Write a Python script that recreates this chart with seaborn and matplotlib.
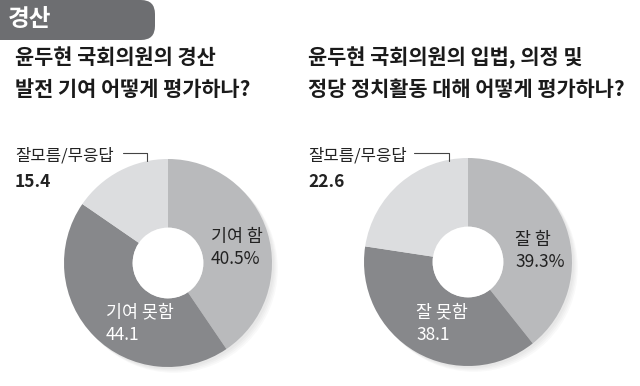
"""Gyeongsan poll: two donut charts on lawmaker evaluation."""

import matplotlib
matplotlib.use('Agg')
import matplotlib.pyplot as plt
import matplotlib.patches as mpatches
import matplotlib.transforms as mtransforms
import seaborn as sns

# %% Data ----
region = '경산'
titles = [['윤두현 국회의원의 경산', '발전 기여 어떻게 평가하나?'],
          ['윤두현 국회의원의 입법, 의정 및', '정당 정치활동 대해 어떻게 평가하나?']]
left_labels = ['기여 함', '기여 못함', '잘모름/무응답']
left_values = [40.5, 44.1, 15.4]
right_labels = ['잘 함', '잘 못함', '잘모름/무응답']
right_values = [39.3, 38.1, 22.6]
value_texts = [['40.5%', '44.1', '15.4'], ['39.3%', '38.1', '22.6']]

colors = ['#b9babc', '#87888b', '#dcdddf']

# %% Style ----
sns.set_theme(style='white')
plt.rcParams['font.family'] = ['Noto Sans CJK KR', 'DejaVu Sans']

W, H = 640, 386
fig = plt.figure(figsize=(W / 100, H / 100), dpi=100)
fig.patch.set_facecolor('white')


def px(x, y):
    """pixel coords (top-left origin) -> figure fraction"""
    return x / W, 1 - y / H


# header tab
tab = mpatches.FancyBboxPatch((-20, H - 40), 175, 40,
                              boxstyle='round,pad=0,rounding_size=14',
                              transform=mtransforms.IdentityTransform(),
                              facecolor='#6d6e71', edgecolor='none')
fig.patches.append(tab)
fig.text(*px(8, 19), region, color='white', fontsize=17, fontweight='bold',
         va='center', ha='left')

HOLE = 0.34


def donut(cx, cy, r, values, title_x, title):
    ax = fig.add_axes([(cx - 1.1 * r) / W, (H - cy - 1.1 * r) / H,
                       2.2 * r / W, 2.2 * r / H])
    # soft shadow at lower right
    for i in range(4):
        sh = mpatches.Circle((0.02 + 0.012 * i, -0.02 - 0.012 * i), 1.0,
                             facecolor='black', alpha=0.025, edgecolor='none')
        ax.add_patch(sh)
    ax.pie(values, colors=colors, startangle=90, counterclock=False,
           radius=1.0, wedgeprops=dict(width=1 - HOLE, edgecolor='none'))
    ax.add_patch(mpatches.Circle((0, 0), HOLE, facecolor='white',
                                 edgecolor='none', zorder=5))
    ax.set_xlim(-1.1, 1.1)
    ax.set_ylim(-1.1, 1.1)
    ax.set_aspect('equal')
    ax.axis('off')

    for k, line in enumerate(title):
        fig.text(*px(title_x, 58 + 32 * k), line, fontsize=15,
                 fontweight='bold', va='center', ha='left', color='#1a1a1a')
    return ax


donut(168, 263, 104, left_values, 15, titles[0])
donut(468, 262, 104, right_values, 308, titles[1])

# inner labels
fig.text(*px(211, 237), left_labels[0], fontsize=12.5, va='center', color='#222222')
fig.text(*px(211, 259), value_texts[0][0], fontsize=12.5, va='center', color='#222222')
fig.text(*px(106, 312), left_labels[1], fontsize=12.5, va='center', color='white')
fig.text(*px(106, 335), value_texts[0][1], fontsize=12.5, va='center', color='white')

fig.text(*px(515, 240), right_labels[0], fontsize=12.5, va='center', color='#222222')
fig.text(*px(515, 262), value_texts[1][0], fontsize=12.5, va='center', color='#222222')
fig.text(*px(416, 312), right_labels[1], fontsize=12.5, va='center', color='white')
fig.text(*px(416, 335), value_texts[1][1], fontsize=12.5, va='center', color='white')

# outside "don't know" labels with leader lines
outside = [(15, 123, 147, value_texts[0][2]), (308, 414, 449, value_texts[1][2])]
for lx, sx, ex, v in outside:
    fig.text(*px(lx, 156), left_labels[2], fontsize=12, va='center', color='#222222')
    fig.text(*px(lx, 182), v, fontsize=12.5, va='center', color='#222222',
             fontweight='bold')
    fig.add_artist(plt.Line2D([sx / W, ex / W, ex / W],
                              [1 - 153 / H, 1 - 153 / H, 1 - 161 / H],
                              transform=fig.transFigure, color='#444444', lw=0.8))

fig.savefig('out.png', dpi=100, facecolor='white')
